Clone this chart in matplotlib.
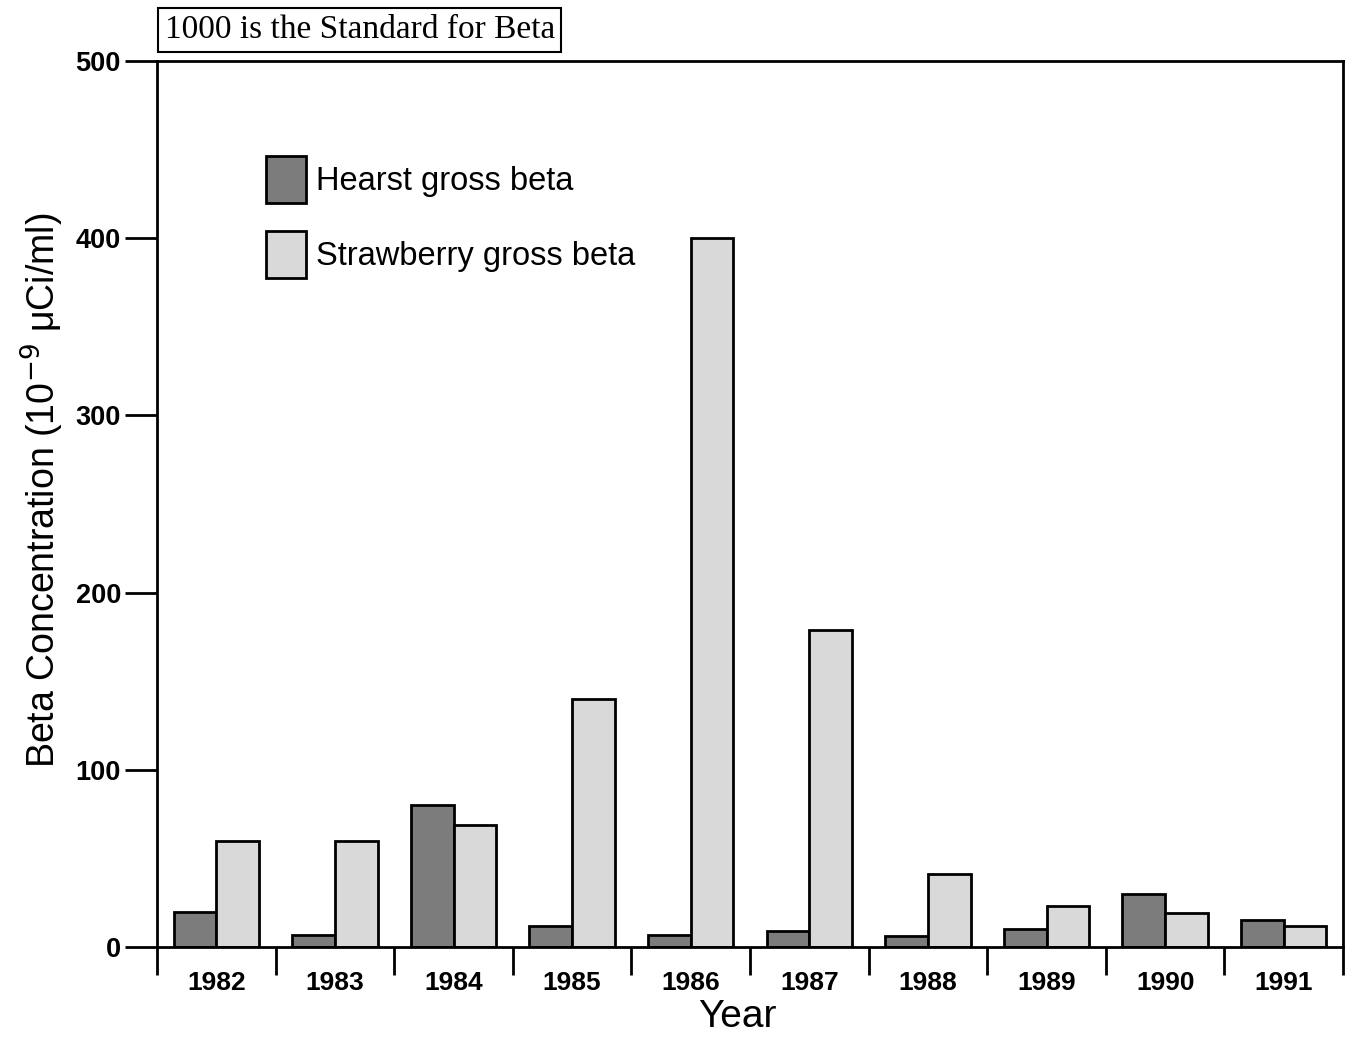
import matplotlib
matplotlib.use('agg')
import matplotlib.pyplot as plt
import numpy as np

years = ['1982', '1983', '1984', '1985', '1986', '1987', '1988', '1989', '1990', '1991']
hearst = [20, 7, 80, 12, 7, 9, 6, 10, 30, 15]
strawberry = [60, 60, 69, 140, 400, 179, 41, 23, 19, 12]

plt.rcParams['font.family'] = ['Liberation Sans', 'DejaVu Sans']

fig = plt.figure(figsize=(13.47, 10.38), dpi=100)
ax = fig.add_axes([0.1166, 0.0877, 0.8805, 0.8535])

x = np.arange(len(years))
w = 0.36
ax.bar(x - w / 2, hearst, w, color='#7c7c7c', edgecolor='black', linewidth=2,
       label='Hearst gross beta')
ax.bar(x + w / 2, strawberry, w, color='#d9d9d9', edgecolor='black', linewidth=2,
       label='Strawberry gross beta')

ax.set_xlim(-0.5, len(years) - 0.5)
ax.set_ylim(0, 500)
ax.set_yticks([0, 100, 200, 300, 400, 500])
ax.tick_params(axis='y', direction='out', length=23, width=2, labelsize=19.5, pad=3)

# year labels in the middle, ticks at the group edges
ax.set_xticks(x)
ax.set_xticklabels(years)
ax.tick_params(axis='x', which='major', length=0, labelsize=19, pad=17)
ax.set_xticks(np.arange(len(years) + 1) - 0.5, minor=True)
ax.tick_params(axis='x', which='minor', direction='out', length=20, width=2)
for lab in ax.get_xticklabels() + ax.get_yticklabels():
    lab.set_fontweight('bold')

for sp in ax.spines.values():
    sp.set_linewidth(2)

ax.set_xlabel('Year', fontsize=28, labelpad=3)
ax.xaxis.label.set_x(0.489)
ax.set_ylabel(r'Beta Concentration (10$^{-9}$ $\mathregular{\mu}$Ci/ml)', fontsize=27, labelpad=7)
ax.yaxis.label.set_y(0.515)

ax.legend(loc='upper left', bbox_to_anchor=(0.092, 0.893), frameon=False,
          fontsize=23.5, handlelength=1.23, handleheight=1.85, labelspacing=0.85,
          handletextpad=0.3, borderpad=0, borderaxespad=0)

fig.text(0.267, 0.971, '1000 is the Standard for Beta', family='Liberation Serif',
         fontsize=24, ha='center', va='center',
         bbox=dict(boxstyle='square,pad=0.2', facecolor='white', edgecolor='black', linewidth=1.5))

plt.savefig('out.png')
